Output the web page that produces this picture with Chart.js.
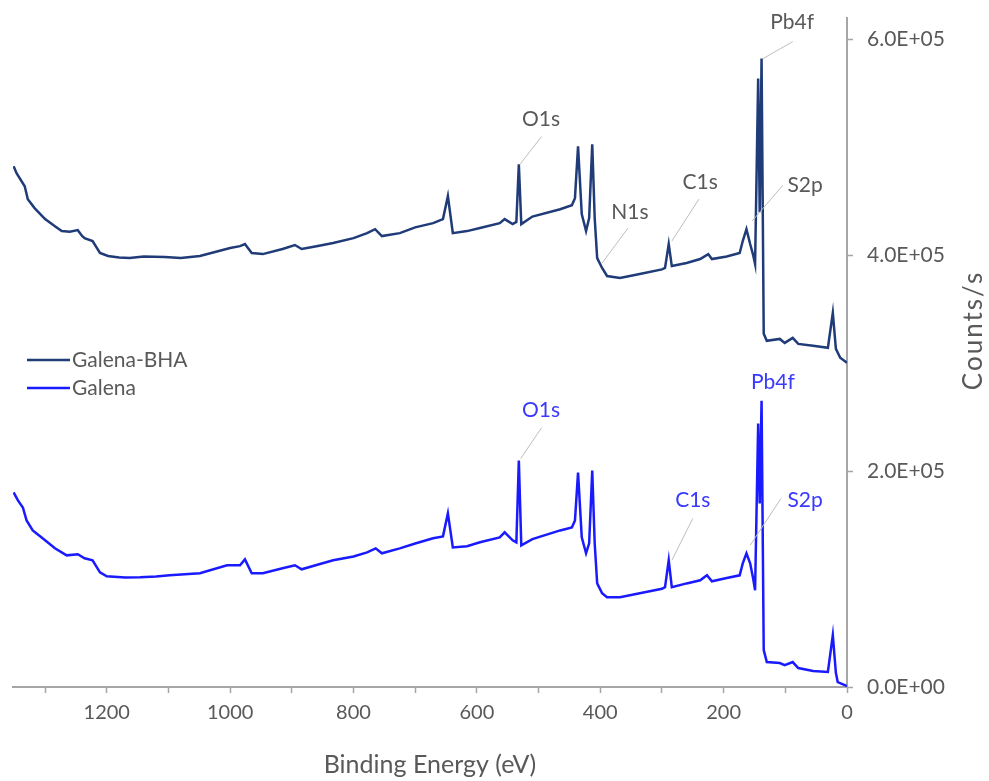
<!DOCTYPE html>
<html lang="en">
<head>
<meta charset="UTF-8">
<title>XPS survey spectra</title>
<script src="https://cdn.jsdelivr.net/npm/chart.js"></script>
<style>
  html, body { margin: 0; padding: 0; background: #fff; }
</style>
</head>
<body>
<canvas id="xps" width="989" height="781"></canvas>
<script>
// values (binding energy in eV, intensity in counts/s)
const bhaEnergy = [1351, 1346, 1333, 1328, 1317, 1300, 1284, 1273, 1260, 1247, 1240, 1236, 1223, 1211, 1198,
  1180, 1163, 1140, 1106, 1080, 1049, 1000, 984, 976, 965, 947, 915, 895, 884, 860, 833, 800, 778, 765, 754,
  725, 700, 671, 655, 647, 639, 616, 595, 563, 555, 542, 536, 532, 528, 510, 465, 446, 441, 436, 430, 423,
  418, 413, 409, 405, 397, 389, 368, 336, 300, 295, 289, 284, 260, 238, 225, 219, 195, 174, 169, 163, 157,
  152, 149, 144, 141.5, 138.5, 135, 130, 109, 101, 88, 79, 55, 31, 23, 18, 11, 0];
const bhaCounts = [482600, 476000, 464100, 452100, 443800, 433600, 427100, 422500, 422000, 423400, 418000,
  416000, 413300, 402200, 399400, 398000, 397500, 399000, 398500, 397600, 399400, 406800, 408600, 410500,
  402200, 401200, 405900, 409600, 405900, 408500, 411400, 416000, 420600, 424300, 417900, 420600, 426000,
  429900, 433600, 454900, 420600, 422500, 425300, 429900, 433600, 429000, 431000, 484400, 429000, 436000,
  442800, 446500, 453000, 501100, 438200, 422500, 434500, 502900, 434500, 397500, 388300, 380900, 379000,
  382700, 387000, 388300, 410500, 390100, 393000, 396600, 401200, 396600, 399000, 402200, 413300, 424300,
  410500, 400000, 392000, 563900, 440000, 582400, 327300, 320800, 322600, 318900, 323600, 318000, 316200,
  314300, 346700, 313400, 305100, 300500];

const galenaEnergy = [1351, 1344, 1336, 1330, 1320, 1304, 1284, 1265, 1247, 1236, 1223, 1211, 1200, 1170,
  1146, 1120, 1098, 1049, 1005, 984, 976, 965, 947, 915, 895, 884, 860, 833, 800, 778, 764, 754, 725, 700,
  671, 655, 647, 639, 616, 595, 563, 555, 542, 536, 532, 528, 510, 465, 446, 441, 436, 430, 423, 418, 413,
  409, 405, 397, 389, 368, 336, 300, 295, 289, 284, 260, 238, 227, 219, 195, 174, 169, 163, 157, 152, 149,
  144, 141.5, 138.5, 135, 130, 109, 101, 88, 79, 55, 31, 23, 18, 15, 0];
const galenaCounts = [180300, 172900, 166400, 154400, 145100, 137800, 128500, 122000, 123000, 119300,
  117400, 106300, 102600, 101500, 101700, 102500, 103500, 105400, 112800, 112800, 118300, 105400, 105400,
  110000, 112800, 109100, 113000, 117400, 121000, 124800, 128500, 123900, 128500, 133000, 137800, 139600,
  160900, 129400, 130400, 134100, 138700, 143300, 135900, 134000, 209900, 131300, 137000, 145100, 147900,
  154400, 198800, 138700, 123900, 133100, 200600, 133100, 96100, 86900, 83200, 83200, 86900, 91000, 92500,
  117400, 92500, 96000, 98900, 103500, 98000, 101000, 103500, 114600, 123900, 114600, 100000, 89700,
  244100, 170100, 265300, 34200, 23100, 22200, 20300, 23100, 17600, 14800, 13900, 48100, 12900, 4600, 900];

const seriesNames = ['Galena-BHA', 'Galena'];
const seriesColors = ['#1f3b78', '#1a1aff'];
const energyTicks = [0, 100, 200, 300, 400, 500, 600, 700, 800, 900, 1000, 1100, 1200, 1300];
const countTicks = [0, 200000, 400000, 600000];

// peak labels: text position and leader line, in data units
const peakLabels = [
  { text: 'O1s', series: 0, at: [496, 526000], line: [[495, 510300], [530, 484400]] },
  { text: 'Pb4f', series: 0, at: [89, 615700], line: [[88, 598100], [136, 582400]] },
  { text: 'S2p', series: 0, at: [68, 465000], line: [[104, 465000], [154, 431700]] },
  { text: 'N1s', series: 0, at: [352, 440100], line: [[355, 425300], [397, 392900]] },
  { text: 'C1s', series: 0, at: [238, 467800], line: [[240, 452100], [284, 413300]] },
  { text: 'O1s', series: 1, at: [496, 256100], line: [[495, 240400], [529, 211700]] },
  { text: 'Pb4f', series: 1, at: [120, 282900], line: null },
  { text: 'C1s', series: 1, at: [250, 172900], line: [[250, 156200], [284, 117400]] },
  { text: 'S2p', series: 1, at: [68, 172900], line: [[107, 174700], [157, 131300]] }
];
const labelColors = ['#595959', '#3a3aff'];

const FONT = 'Lato, "Open Sans", sans-serif';
const axisGrey = '#a6a6a6';

function toPoints(xs, ys) {
  return xs.map((x, i) => ({ x: x, y: ys[i] }));
}

function sciLabel(v) {
  const parts = v.toExponential(1).split('e');
  const exp = parseInt(parts[1], 10);
  const sign = exp < 0 ? '-' : '+';
  return parts[0] + 'E' + sign + String(Math.abs(exp)).padStart(2, '0');
}

const extras = {
  id: 'extras',
  afterDatasetsDraw(chart) {
    const { ctx, chartArea, scales } = chart;
    const xs = scales.x, ys = scales.y;
    ctx.save();

    // peak labels with leader lines
    ctx.font = '21px ' + FONT;
    ctx.textAlign = 'center';
    ctx.textBaseline = 'middle';
    peakLabels.forEach(p => {
      if (p.line) {
        ctx.strokeStyle = '#bdbdbd';
        ctx.lineWidth = 1;
        ctx.beginPath();
        ctx.moveTo(xs.getPixelForValue(p.line[0][0]), ys.getPixelForValue(p.line[0][1]));
        ctx.lineTo(xs.getPixelForValue(p.line[1][0]), ys.getPixelForValue(p.line[1][1]));
        ctx.stroke();
      }
      ctx.fillStyle = labelColors[p.series];
      ctx.fillText(p.text, xs.getPixelForValue(p.at[0]), ys.getPixelForValue(p.at[1]));
    });

    // legend in the plot, left side
    ctx.textAlign = 'left';
    ctx.font = '21px ' + FONT;
    seriesNames.forEach((name, i) => {
      const y = chartArea.top + 342 + i * 28;
      ctx.strokeStyle = seriesColors[i];
      ctx.lineWidth = 2.5;
      ctx.beginPath();
      ctx.moveTo(chartArea.left + 14, y);
      ctx.lineTo(chartArea.left + 57, y);
      ctx.stroke();
      ctx.fillStyle = '#595959';
      ctx.fillText(name, chartArea.left + 59, y);
    });

    // y-axis title, reading bottom to top
    ctx.translate(chart.width - 15, (chartArea.top + chartArea.bottom) / 2 - 22);
    ctx.rotate(-Math.PI / 2);
    ctx.textAlign = 'center';
    ctx.font = '26px ' + FONT;
    ctx.letterSpacing = '2px';
    ctx.fillStyle = '#595959';
    ctx.fillText('Counts/s', 0, 0);
    ctx.restore();
  }
};

new Chart(document.getElementById('xps'), {
  type: 'line',
  data: {
    datasets: [
      {
        label: seriesNames[0],
        data: toPoints(bhaEnergy, bhaCounts),
        borderColor: seriesColors[0],
        borderWidth: 2.5,
        pointRadius: 0,
        tension: 0
      },
      {
        label: seriesNames[1],
        data: toPoints(galenaEnergy, galenaCounts),
        borderColor: seriesColors[1],
        borderWidth: 2.5,
        pointRadius: 0,
        tension: 0
      }
    ]
  },
  options: {
    responsive: false,
    animation: false,
    parsing: false,
    layout: { padding: { left: 13, top: 18, right: 0, bottom: 0 } },
    plugins: {
      legend: { display: false },
      tooltip: { enabled: false }
    },
    scales: {
      x: {
        type: 'linear',
        reverse: true,
        min: 0,
        max: 1352,
        afterBuildTicks: s => { s.ticks = energyTicks.map(v => ({ value: v })); },
        afterFit: s => { s.height = 94; s.paddingLeft = 0; },
        grid: { drawOnChartArea: false, drawTicks: true, tickLength: 6, color: axisGrey, tickWidth: 1.5 },
        border: { color: axisGrey, width: 2 },
        ticks: {
          maxRotation: 0,
          autoSkip: false,
          padding: 8,
          color: '#595959',
          font: { family: FONT, size: 20 },
          callback: v => (v % 200 === 0 ? String(v) : '')
        },
        title: {
          display: true,
          text: 'Binding Energy (eV)',
          color: '#595959',
          font: { family: FONT, size: 25 },
          padding: { top: 0, bottom: 1 }
        }
      },
      y: {
        type: 'linear',
        position: 'right',
        min: 0,
        max: 620000,
        afterBuildTicks: s => { s.ticks = countTicks.map(v => ({ value: v })); },
        afterFit: s => { s.width = 142; s.paddingTop = 0; s.paddingBottom = 0; },
        grid: { drawOnChartArea: false, drawTicks: true, tickLength: 6, color: axisGrey, tickWidth: 1.5 },
        border: { color: axisGrey, width: 2 },
        ticks: {
          padding: 14,
          color: '#595959',
          font: { family: FONT, size: 21 },
          callback: v => sciLabel(v)
        }
      }
    }
  },
  plugins: [extras]
});
</script>
</body>
</html>
